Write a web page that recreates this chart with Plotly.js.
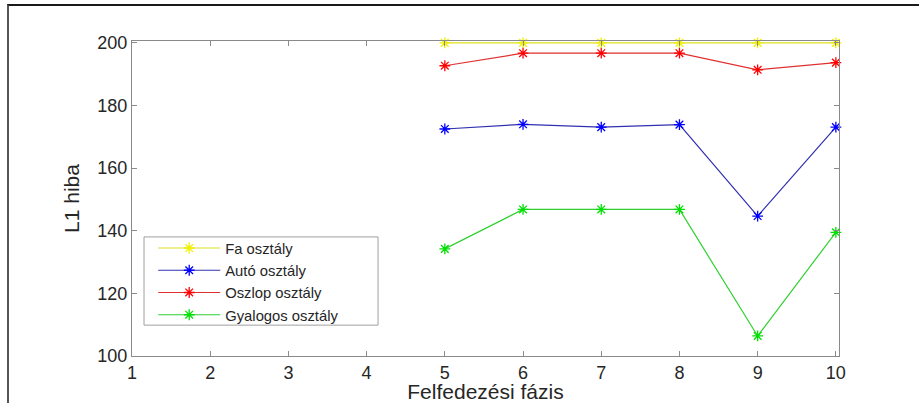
<!DOCTYPE html>
<html>
<head>
<meta charset="utf-8">
<script src="https://cdn.plot.ly/plotly-3.0.1.min.js"></script>
<style>
  html, body { margin: 0; padding: 0; background: #fff; }
  #wrap { position: relative; width: 919px; height: 403px; }
  #chart { width: 919px; height: 403px; }
  #frame { position: absolute; left: 7px; top: 4px; width: 912px; height: 399px;
           border-left: 2px solid #555; border-top: 2px solid #1a1a1a; pointer-events: none; box-sizing: border-box; }
</style>
</head>
<body>
<div id="wrap">
  <div id="chart"></div>
  <div id="frame"></div>
</div>
<script>
// Data
const phases = [5, 6, 7, 8, 9, 10];
const faValues = [200, 200, 200, 200, 200, 200];
const autoValues = [172.5, 174, 173.1, 173.9, 144.7, 173.1];
const oszlopValues = [192.7, 196.7, 196.7, 196.7, 191.4, 193.7];
const gyalogosValues = [134.2, 146.8, 146.8, 146.8, 106.4, 139.5];
const seriesNames = ['Fa osztály', 'Autó osztály', 'Oszlop osztály', 'Gyalogos osztály'];
const xTicks = [1, 2, 3, 4, 5, 6, 7, 8, 9, 10];
const yTicks = [100, 120, 140, 160, 180, 200];

const colors = ['#f0f000', '#0000ff', '#ff0000', '#00e000'];
const lineColors = ['#e0e020', '#3030b0', '#e03030', '#30d030'];
const allValues = [faValues, autoValues, oszlopValues, gyalogosValues];

const traces = allValues.map((vals, i) => ({
  x: phases,
  y: vals,
  type: 'scatter',
  mode: 'lines+markers',
  name: seriesNames[i],
  cliponaxis: false,
  line: { color: lineColors[i], width: 1.2 },
  marker: { symbol: 'asterisk-open', size: 9, color: colors[i], line: { color: colors[i], width: 1.3 } }
}));

const FONT = 'Liberation Sans, Arial, sans-serif';
const axisCommon = {
  showgrid: false,
  zeroline: false,
  showline: true,
  linecolor: '#8a8a8a',
  linewidth: 1,
  mirror: 'ticks',
  ticks: 'inside',
  ticklen: 5,
  tickcolor: '#8a8a8a',
  tickfont: { family: FONT, size: 18, color: '#262626' }
};

const layout = {
  width: 919,
  height: 403,
  margin: { l: 132, r: 80, t: 41, b: 47 },
  paper_bgcolor: '#ffffff',
  plot_bgcolor: '#ffffff',
  showlegend: true,
  xaxis: Object.assign({}, axisCommon, {
    range: [1, 10.04],
    tickvals: xTicks,
    ticktext: xTicks.map(String),
    ticklabelstandoff: 0,
    title: { text: 'Felfedezési fázis', font: { family: FONT, size: 21, color: '#262626' }, standoff: 2 }
  }),
  yaxis: Object.assign({}, axisCommon, {
    range: [100, 200.6],
    tickvals: yTicks,
    ticktext: yTicks.map(String),
    title: { text: 'L1 hiba', font: { family: FONT, size: 21, color: '#262626' }, standoff: 12 }
  }),
  // legend frame (box drawn as a shape so its width matches the reference)
  shapes: [{
    type: 'rect', xref: 'paper', yref: 'paper', layer: 'above',
    x0: 0.017, x1: 0.348, y0: 0.098, y1: 0.378,
    line: { color: '#a0a0a0', width: 1 }, fillcolor: '#ffffff'
  }],
  legend: {
    x: 0.030, y: 0.394, xanchor: 'left', yanchor: 'top',
    bgcolor: 'rgba(0,0,0,0)', borderwidth: 0,
    font: { family: FONT, size: 14.8, color: '#262626' },
    itemwidth: 62,
    tracegroupgap: 0
  }
};

Plotly.newPlot('chart', traces, layout, { displayModeBar: false, staticPlot: true });
</script>
</body>
</html>
